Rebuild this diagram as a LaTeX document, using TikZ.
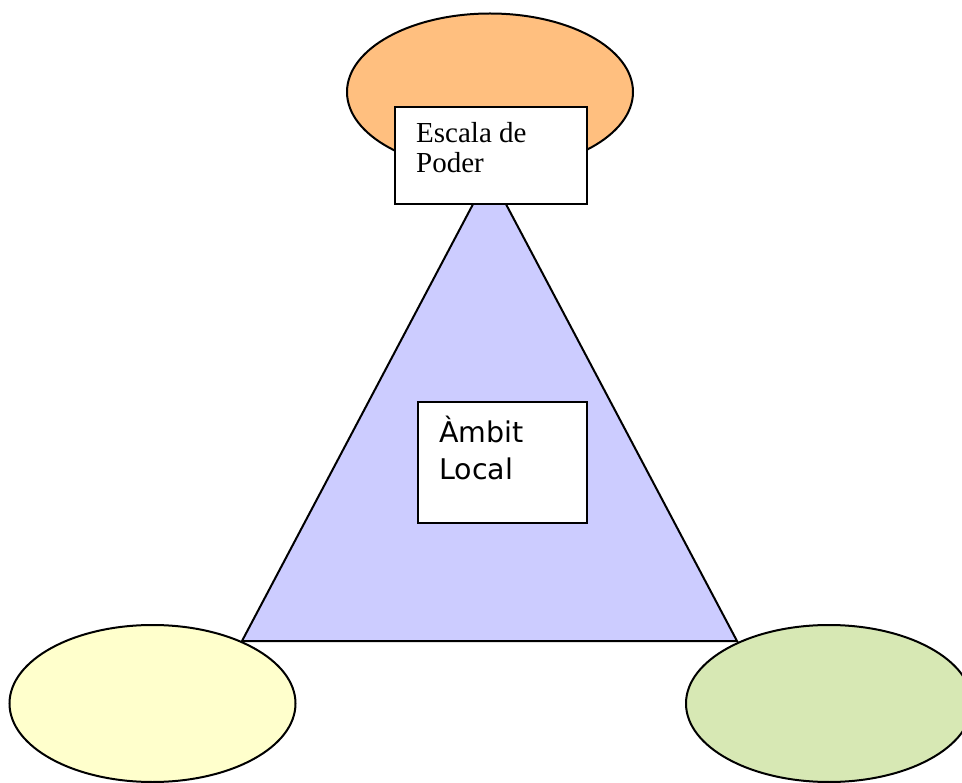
\documentclass[tikz,border=0pt]{standalone}
\usepackage{fontspec}
\setmainfont{Liberation Serif}
\newfontfamily\labsans{DejaVu Sans}
\usetikzlibrary{shapes.geometric}
\definecolor{orangefill}{HTML}{FFBF7F}
\definecolor{lavfill}{HTML}{CCCCFF}
\definecolor{yelfill}{HTML}{FFFFCC}
\definecolor{grnfill}{HTML}{D7E8B4}
\tikzset{
  outline/.style={draw=black, line width=2pt},
  oval/.style={outline, ellipse, inner sep=0pt, minimum width=286pt, minimum height=157pt},
  whitebox/.style={outline, fill=white, rectangle, inner sep=0pt},
  serifText/.style={font=\fontsize{29}{30}\selectfont, align=left, inner sep=0pt, anchor=base west},
  sansText/.style={font=\labsans\fontsize{28.5}{37}\selectfont, align=left, inner sep=0pt, anchor=base west},
}
\begin{document}
\begin{tikzpicture}[x=1pt,y=-1pt]
\useasboundingbox (0,0) rectangle (962,783);
% ellipses
\node[oval, fill=orangefill] (top) at (490,92) {};
\node[oval, fill=yelfill] (left) at (152.5,703.5) {};
\node[oval, fill=grnfill] (right) at (829,703.5) {};
% triangle
\coordinate (apex) at (489.5,173);
\coordinate (bl) at (242,641);
\coordinate (br) at (737,641);
\draw[outline, fill=lavfill, line join=miter] (apex) -- (bl) -- (br) -- cycle;
% boxes
\node[whitebox, minimum width=192pt, minimum height=97pt] (escbox) at (491,155.5) {};
\node[serifText] (esctext) at (416,173) {Escala de\\Poder};
\node[whitebox, minimum width=169pt, minimum height=121pt] (ambbox) at (502.5,462.5) {};
\node[sansText] (ambtext) at (439,480) {Àmbit\\Local};
\end{tikzpicture}
\end{document}
